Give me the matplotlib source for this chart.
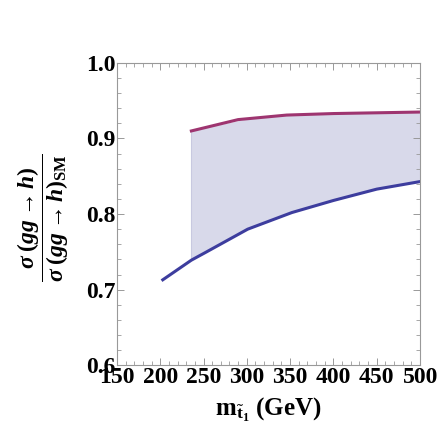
import matplotlib
matplotlib.use("Agg")
import matplotlib.pyplot as plt
from matplotlib.ticker import MultipleLocator
import numpy as np

plt.rcParams['font.family'] = 'Liberation Serif'
plt.rcParams['font.weight'] = 'bold'
plt.rcParams['mathtext.fontset'] = 'custom'
plt.rcParams['mathtext.rm'] = 'Liberation Serif:bold'
plt.rcParams['mathtext.it'] = 'Liberation Serif:bold:italic'
plt.rcParams['mathtext.bf'] = 'Liberation Serif:bold'

# lower edge of the band (blue line)
m_low = [203, 236, 252, 301, 352, 400, 450, 500]
r_low = [0.713, 0.739, 0.749, 0.780, 0.802, 0.818, 0.833, 0.843]

# upper edge of the band (purple line)
m_up = [236, 290, 346, 400, 450, 500]
r_up = [0.910, 0.925, 0.931, 0.933, 0.934, 0.935]

fig = plt.figure(figsize=(4.46, 4.40), dpi=100)
ax = fig.add_axes([0.262, 0.170, 0.680, 0.687])

# band between the two curves, from where the upper curve starts
band_x = [x for x in m_low if x >= m_up[0]]
band_lo = [r for x, r in zip(m_low, r_low) if x >= m_up[0]]
band_hi = np.interp(band_x, m_up, r_up)
ax.fill_between(band_x, band_lo, band_hi, color='#d8d9ea', lw=0)
ax.plot([band_x[0], band_x[0]], [band_lo[0], band_hi[0]], color='#c8c9e0', lw=0.8)

ax.plot(m_low, r_low, color='#3d3d9e', lw=2.2)
ax.plot(m_up, r_up, color='#9e3570', lw=2.2)

ax.set_xlim(150, 500)
ax.set_ylim(0.6, 1.0)
ax.xaxis.set_major_locator(MultipleLocator(50))
ax.xaxis.set_minor_locator(MultipleLocator(10))
ax.yaxis.set_major_locator(MultipleLocator(0.1))
ax.yaxis.set_minor_locator(MultipleLocator(0.02))
ax.tick_params(which='both', direction='in', color='#999999', top=True, right=True,
               labeltop=False, labelright=False)
ax.tick_params(which='major', length=5, width=0.7, labelsize=17, pad=1)
ax.tick_params(which='minor', length=3, width=0.6)
for s in ax.spines.values():
    s.set_color('#999999')
    s.set_linewidth(0.8)
ax.set_yticklabels(['%.1f' % v for v in ax.get_yticks()])

ax.set_xlabel(r'm$_{\tilde{\rm t}_1}$ (GeV)', fontsize=18, fontweight='bold', labelpad=6)
fig.text(0.097, 0.505, r'$\dfrac{\sigma\;(gg\rightarrow h)}{\sigma\;(gg\rightarrow h)_{\rm SM}}$',
         rotation=90, fontsize=17, ha='center', va='center')

fig.savefig('out.png', dpi=100)
